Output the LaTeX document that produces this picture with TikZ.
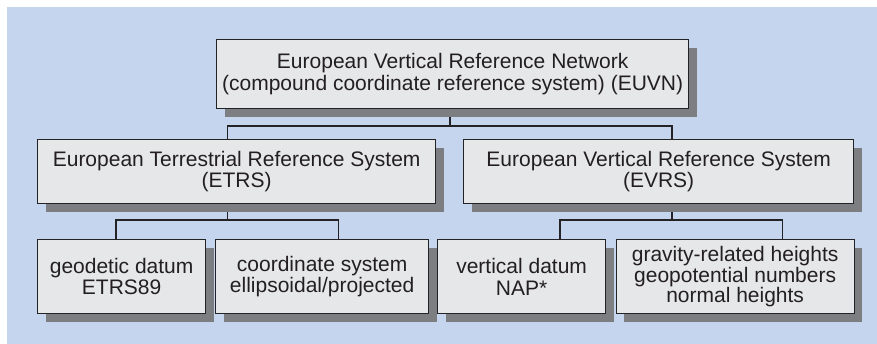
\documentclass[tikz,border=0pt]{standalone}
\usepackage{fontspec}
\setmainfont{Liberation Sans}
\usetikzlibrary{shadows}
\definecolor{bgblue}{RGB}{198,213,238}
\definecolor{boxfill}{RGB}{230,231,233}
\definecolor{shadowc}{RGB}{124,126,130}
\definecolor{linec}{RGB}{35,35,37}
\definecolor{textc}{RGB}{35,31,32}
\pgfdeclarelayer{back}
\pgfsetlayers{back,main}
\begin{document}
\begin{tikzpicture}[x=1pt,y=-1pt,
  box/.style={draw=linec, line width=1.3pt, fill=boxfill, inner sep=0pt,
    anchor=north west, align=center, text=textc,
    font=\fontsize{21}{21.6}\selectfont,
    drop shadow={shadow xshift=8pt, shadow yshift=-8pt, fill=shadowc, opacity=1}},
  conn/.style={draw=linec, line width=1.2pt}]
\useasboundingbox (0,0) rectangle (877,344);
% boxes
\node[box, minimum width=472pt, minimum height=69pt] (euvn) at (216,39)
  {European Vertical Reference Network\\(compound coordinate reference system) (EUVN)};
\node[box, minimum width=398pt, minimum height=64pt] (etrs) at (37,139)
  {European Terrestrial Reference System\\(ETRS)};
\node[box, minimum width=390pt, minimum height=64pt] (evrs) at (463,139)
  {European Vertical Reference System\\(EVRS)};
\node[box, minimum width=168pt, minimum height=74pt] (geo) at (37,239)
  {geodetic datum\\ETRS89};
\node[box, minimum width=213pt, minimum height=74pt] (coord) at (215,239)
  {coordinate system\\ellipsoidal/projected};
\node[box, minimum width=168pt, minimum height=74pt] (vert) at (437,239)
  {vertical datum\\NAP*};
\node[box, minimum width=238pt, minimum height=74pt, font=\fontsize{21}{20.8}\selectfont] (grav) at (615.5,239)
  {gravity-related heights\\geopotential numbers\\normal heights};
% junction points
\coordinate (j0) at (450,126);
\coordinate (j0l) at (227.7,126);
\coordinate (j0r) at (672,126);
\coordinate (j1) at (227.7,220);
\coordinate (j1l) at (116,220);
\coordinate (j1r) at (338.7,220);
\coordinate (j2) at (672,220);
\coordinate (j2l) at (560,220);
\coordinate (j2r) at (782.7,220);
\begin{pgfonlayer}{back}
\fill[bgblue] (7,7) rectangle (877,344);
\draw[conn] (euvn.south -| j0) -- (j0);
\draw[conn] (etrs.north -| j0l) -- (j0l) -- (j0r) -- (evrs.north -| j0r);
\draw[conn] (etrs.south -| j1) -- (j1);
\draw[conn] (geo.north -| j1l) -- (j1l) -- (j1r) -- (coord.north -| j1r);
\draw[conn] (evrs.south -| j2) -- (j2);
\draw[conn] (vert.north -| j2l) -- (j2l) -- (j2r) -- (grav.north -| j2r);
\end{pgfonlayer}
\end{tikzpicture}
\end{document}
